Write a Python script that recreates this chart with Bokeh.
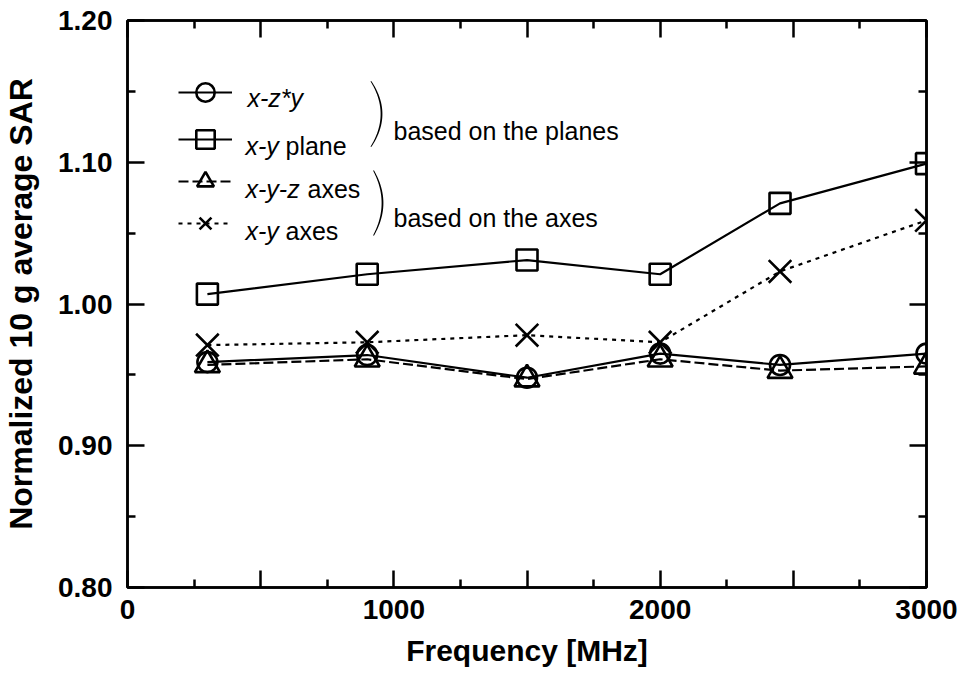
import numpy as np
from bokeh.plotting import figure
from bokeh.models import (LinearAxis, FixedTicker, NumeralTickFormatter, Legend, LegendItem,
                          Label, PolyAnnotation, Range1d, CustomJSTickFormatter)
from bokeh.embed import file_html
from bokeh.resources import INLINE

# ---------------- data ----------------
freq = [300, 900, 1500, 2000, 2450, 3000]
xzy = [0.959, 0.964, 0.948, 0.965, 0.957, 0.965]          # x-z*y (circle)
xy_plane = [1.007, 1.021, 1.031, 1.021, 1.071, 1.099]     # x-y plane (square)
xyz_axes = [0.957, 0.961, 0.947, 0.961, 0.953, 0.956]     # x-y-z axes (triangle)
xy_axes = [0.971, 0.973, 0.978, 0.973, 1.023, 1.059]      # x-y axes (cross)

x_major = [0, 500, 1000, 1500, 2000, 2500, 3000]
x_minor = [250, 750, 1250, 1750, 2250, 2750]
x_labels = {0: "0", 500: "", 1000: "1000", 1500: "", 2000: "2000", 2500: "", 3000: "3000"}
y_major = [0.80, 0.90, 1.00, 1.10, 1.20]
y_minor = [0.85, 0.95, 1.05, 1.15]

FONT = "Liberation Sans"

p = figure(width=962, height=679, output_backend="svg", toolbar_location=None,
           x_range=Range1d(0, 3000), y_range=Range1d(0.80, 1.20),
           min_border_left=127, min_border_right=36, min_border_top=20, min_border_bottom=92)
p.grid.visible = False
p.outline_line_color = "black"
p.outline_line_width = 2.5
p.background_fill_color = "white"
p.border_fill_color = "white"

def style_axis(ax, show_labels):
    ax.axis_line_width = 2.5
    ax.axis_line_color = "black"
    ax.major_tick_in = 17
    ax.major_tick_out = 0
    ax.minor_tick_in = 8
    ax.minor_tick_out = 0
    ax.major_tick_line_width = 2.5
    ax.minor_tick_line_width = 2.5
    ax.major_tick_line_color = "black"
    ax.minor_tick_line_color = "black"
    if not show_labels:
        ax.formatter = CustomJSTickFormatter(code="return ''")
        ax.major_label_text_font_size = "0px"
        ax.major_label_standoff = 0
    else:
        ax.major_label_text_font = FONT
        ax.major_label_text_font_style = "bold"
        ax.major_label_text_font_size = "28px"
        ax.major_label_text_color = "black"
        ax.axis_label_text_font = FONT
        ax.axis_label_text_font_style = "bold"
        ax.axis_label_text_font_size = "30px"
        ax.axis_label_text_color = "black"

xt = FixedTicker(ticks=x_major, minor_ticks=x_minor)
yt = FixedTicker(ticks=y_major, minor_ticks=y_minor)

xa = p.xaxis[0]
xa.ticker = xt
style_axis(xa, True)
xa.major_label_overrides = x_labels
xa.axis_label = "Frequency [MHz]"
xa.major_label_standoff = 12
xa.axis_label_standoff = 12

ya = p.yaxis[0]
ya.ticker = yt
style_axis(ya, True)
ya.formatter = NumeralTickFormatter(format="0.00")
ya.axis_label = "Normalized 10 g average SAR"
ya.axis_label_text_font_size = "32px"
ya.major_label_standoff = 15
ya.axis_label_standoff = 16

top = LinearAxis(ticker=FixedTicker(ticks=x_major, minor_ticks=x_minor))
style_axis(top, False)
p.add_layout(top, "above")
right = LinearAxis(ticker=FixedTicker(ticks=y_major, minor_ticks=y_minor))
style_axis(right, False)
p.add_layout(right, "right")

# ---------------- series ----------------
l1 = p.line(freq, xzy, line_color="black", line_width=2.2)
l2 = p.line(freq, xy_plane, line_color="black", line_width=2.2)
l3 = p.line(freq, xyz_axes, line_color="black", line_width=2.2, line_dash="10 4")
l4 = p.line(freq, xy_axes, line_color="black", line_width=2.2, line_dash="4 5")
s1 = p.scatter(freq, xzy, marker="circle", size=20, fill_color=None, line_color="black", line_width=2.6)
s2 = p.scatter(freq, xy_plane, marker="square", size=21, fill_color=None, line_color="black", line_width=2.6)
s3 = p.scatter(freq, xyz_axes, marker="triangle", size=25, fill_color=None, line_color="black", line_width=2.6)
s4 = p.scatter(freq, xy_axes, marker="x", size=32, fill_color=None, line_color="black", line_width=2.6)

def make_legend(items, loc, gh, spacing):
    leg = Legend(items=items, location=loc, orientation="vertical",
                 glyph_width=54, glyph_height=gh, label_height=gh, label_width=0,
                 spacing=spacing, padding=0, margin=0, label_standoff=0,
                 border_line_color=None, background_fill_alpha=0,
                 label_text_font_size="6px", label_text_alpha=0)
    return leg

leg1 = make_legend([LegendItem(label=" ", renderers=[l1, s1]),
                    LegendItem(label=" ", renderers=[l2, s2])], (51, 425), 46, 1)
leg2 = make_legend([LegendItem(label=" ", renderers=[l3, s3]),
                    LegendItem(label=" ", renderers=[l4, s4])], (51, 343), 42, 0)
p.add_layout(leg1)
p.add_layout(leg2)

def lab(x, y, text, style="normal"):
    p.add_layout(Label(x=x, y=y, x_units="screen", y_units="screen", text=text,
                       text_font=FONT, text_font_size="25px", text_font_style=style,
                       text_color="black", text_baseline="alphabetic", text_align="left"))

lab(120, 490, "x-z*y", "italic")
lab(118, 442, "x-y", "italic")
lab(158, 442, "plane")
lab(118, 399, "x-y-z", "italic")
lab(180, 399, "axes")
lab(118, 357, "x-y", "italic")
lab(158, 357, "axes")
lab(266, 457, "based on the planes")
lab(266, 370, "based on the axes")

def brace(xm, yc, half, w):
    t = np.linspace(-1, 1, 60)
    th = 0.9 * (1 - 0.4 * t ** 2)
    xc = xm - w * t ** 2
    ys = yc + half * t
    xs = list(xc + th) + list((xc - th)[::-1])
    yy = list(ys) + list(ys[::-1])
    p.add_layout(PolyAnnotation(xs=xs, ys=yy, xs_units="screen", ys_units="screen",
                                fill_color="black", fill_alpha=1, line_color=None))

brace(254, 473.5, 32.7, 10.5)
brace(255, 384.5, 32.5, 9)

open("out.html", "w").write(file_html(p, INLINE))
